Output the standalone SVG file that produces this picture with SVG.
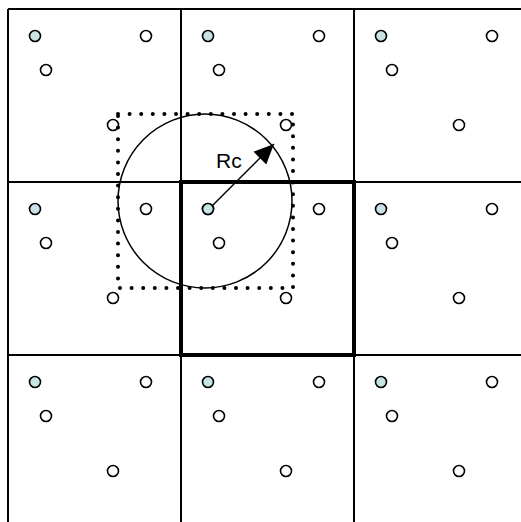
<svg xmlns="http://www.w3.org/2000/svg" width="521" height="522" viewBox="0 0 521 522">
<defs>
<style>
.grid{stroke:#000;stroke-width:2;fill:none}
.pt{fill:#fff;stroke:#000;stroke-width:1.6}
.seed{fill:#c6e3e6;stroke:#000;stroke-width:1.6}
.lbl{font-family:"Liberation Sans",Arial,sans-serif;font-size:21px;fill:#000}
</style>
<marker id="ah" markerWidth="20" markerHeight="20" viewBox="0 0 20 20" refX="20" refY="10" orient="auto" markerUnits="userSpaceOnUse">
<path d="M0,1 L20,10 L0,19 Z" fill="#000"/>
</marker>
<g id="cellpts">
<circle class="seed" cx="27" cy="27" r="5.5"/>
<circle class="pt" cx="138" cy="27" r="5.5"/>
<circle class="pt" cx="38" cy="61" r="5.5"/>
<circle class="pt" cx="105" cy="116" r="5.5"/>
</g>
</defs>
<rect width="521" height="522" fill="#fff"/>
<g id="grid">
<line class="grid" x1="8" y1="9" x2="521" y2="9"/>
<line class="grid" x1="8" y1="182" x2="521" y2="182"/>
<line class="grid" x1="8" y1="355" x2="521" y2="355"/>
<line class="grid" x1="8" y1="9" x2="8" y2="522"/>
<line class="grid" x1="181" y1="9" x2="181" y2="522"/>
<line class="grid" x1="354" y1="9" x2="354" y2="522"/>
</g>
<g id="points">
<use href="#cellpts" x="8" y="9"/>
<use href="#cellpts" x="181" y="9"/>
<use href="#cellpts" x="354" y="9"/>
<use href="#cellpts" x="8" y="182"/>
<use href="#cellpts" x="181" y="182"/>
<use href="#cellpts" x="354" y="182"/>
<use href="#cellpts" x="8" y="355"/>
<use href="#cellpts" x="181" y="355"/>
<use href="#cellpts" x="354" y="355"/>
</g>
<g id="cell-highlight">
<rect x="181" y="182" width="173" height="173" fill="none" stroke="#000" stroke-width="4"/>
</g>
<g id="range">
<rect x="118" y="114" width="175" height="174" fill="none" stroke="#000" stroke-width="4" stroke-dasharray="0 11.6" stroke-linecap="round"/>
<circle cx="205" cy="201" r="87" fill="none" stroke="#000" stroke-width="1.5"/>
</g>
<g id="connectors">
<line x1="208" y1="210" x2="274" y2="144" stroke="#000" stroke-width="1.5" marker-end="url(#ah)"/>
</g>
<circle class="seed" cx="208" cy="209" r="5.5"/>
<text class="lbl" x="216" y="168">Rc</text>
</svg>
